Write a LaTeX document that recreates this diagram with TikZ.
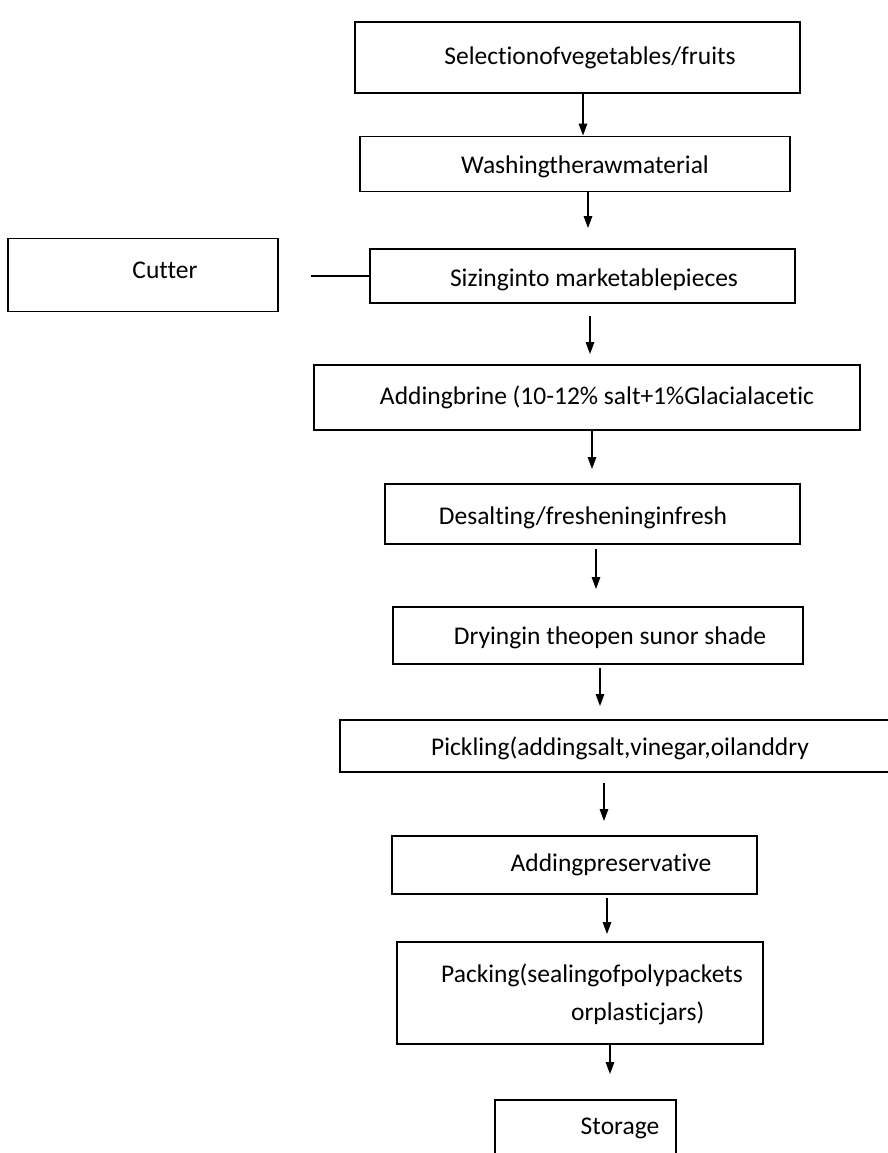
\documentclass[tikz,border=0pt]{standalone}
\usepackage{fontspec}
\setmainfont{Carlito}[Ligatures=CommonOff]
\usetikzlibrary{arrows.meta}

\begin{document}
\begin{tikzpicture}[x=1pt,y=-1pt,
  box/.style={draw, line width=1.9pt, inner sep=0pt},
  txt/.style={font=\fontsize{25.5}{30}\selectfont, inner sep=0pt, align=left},
  arr/.style={line width=1.5pt, -{Triangle[length=12pt,width=8.5pt]}}]
\useasboundingbox (0,0) rectangle (887,1153);

% boxes of the main line
\node[box, minimum width=445pt, minimum height=71pt] (sel) at (577.5,57.5) {};
\node[box, minimum width=430pt, minimum height=55pt] (wash) at (575,164) {};
\node[box, minimum width=425pt, minimum height=54pt] (siz) at (582.5,276) {};
\node[box, minimum width=546pt, minimum height=65pt] (brine) at (587,397.5) {};
\node[box, minimum width=415pt, minimum height=60pt] (desalt) at (592.5,514) {};
\node[box, minimum width=410pt, minimum height=57pt] (dry) at (598,635.5) {};
\node[box, minimum width=560pt, minimum height=52pt] (pick) at (620,746) {};
\node[box, minimum width=365pt, minimum height=58pt] (pres) at (574.5,865) {};
\node[box, minimum width=366pt, minimum height=102pt] (pack) at (580,993) {};
\node[box, minimum width=181pt, minimum height=70pt] (stor) at (585.5,1135) {};
% side box
\node[box, minimum width=270pt, minimum height=73pt] (cut) at (143,275) {};

% texts
\node[txt] (selt) at (590,58) {Selectionofvegetables/fruits};
\node[txt] (washt) at (585,167) {Washingtherawmaterial};
\node[txt] (sizt) at (594,280) {Sizinginto marketablepieces};
\node[txt] (cutt) at (165,270) {Cutter};
\node[txt] (brinet) at (597,397) {Addingbrine (10-12\% salt+1\%Glacialacetic};
\node[txt] (desaltt) at (583,518) {Desalting/fresheninginfresh};
\node[txt] (dryt) at (610,638) {Dryingin theopen sunor shade};
\node[txt] (pickt) at (620,748) {Pickling(addingsalt,vinegar,oilanddry};
\node[txt] (prest) at (611,865) {Addingpreservative};
\node[txt, font=\fontsize{25.5}{38}\selectfont] (packt) at (592,994)
  {Packing(sealingofpolypackets\\\hspace*{130pt}orplasticjars)};
\node[txt] (stort) at (620,1128) {Storage};

% connectors
\draw[line width=1.5pt, shorten <=32pt] (siz.west -| cut.east) -- (siz.west);
\draw[arr] ([xshift=5.5pt]sel.south) -- ([xshift=8pt]wash.north);
\draw[arr, shorten >=20pt] ([xshift=13pt]wash.south) -- ([xshift=5.5pt]siz.north);
\draw[arr, shorten <=12pt, shorten >=10pt] ([xshift=7.5pt]siz.south) -- ([xshift=3pt]brine.north);
\draw[arr, shorten >=14pt] ([xshift=5pt]brine.south) -- ([xshift=-0.5pt]desalt.north);
\draw[arr, shorten <=4pt, shorten >=17pt] ([xshift=3.5pt]desalt.south) -- ([xshift=-2pt]dry.north);
\draw[arr, shorten <=3pt, shorten >=13pt] ([xshift=2pt]dry.south) -- ([xshift=-20pt]pick.north);
\draw[arr, shorten <=10pt, shorten >=14pt] ([xshift=-16pt]pick.south) -- ([xshift=29.5pt]pres.north);
\draw[arr, shorten <=3pt, shorten >=7pt] ([xshift=32.5pt]pres.south) -- ([xshift=27pt]pack.north);
\draw[arr, shorten >=25pt] ([xshift=30pt]pack.south) -- ([xshift=24.5pt]stor.north);
\end{tikzpicture}
\end{document}
